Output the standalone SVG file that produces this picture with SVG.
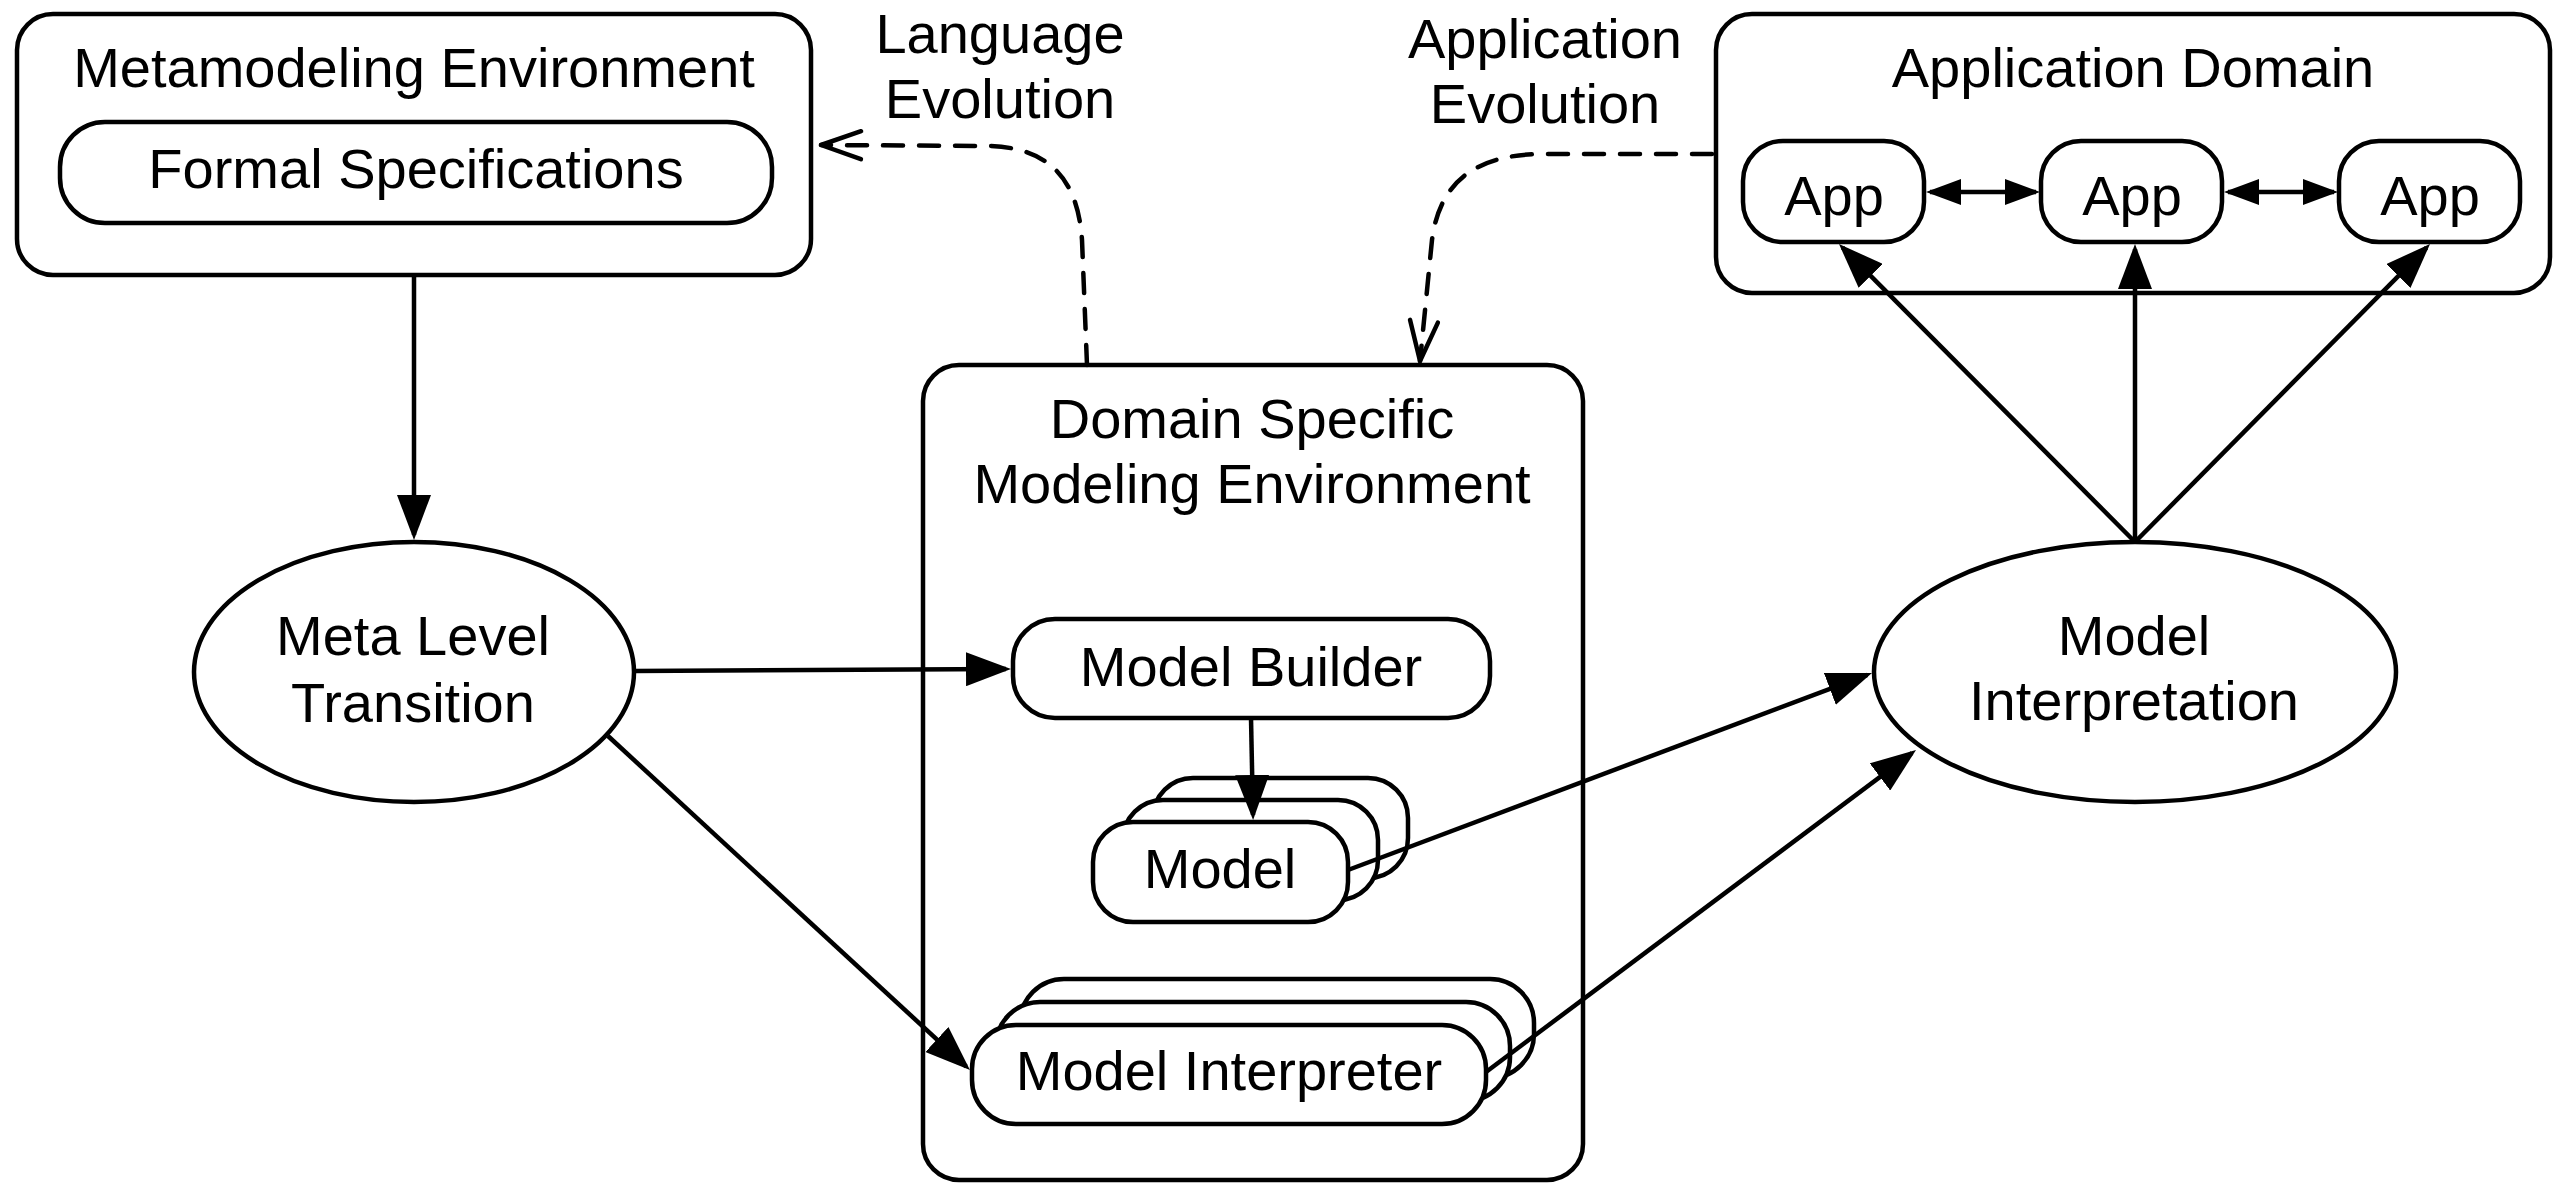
<svg xmlns="http://www.w3.org/2000/svg" width="2564" height="1184" viewBox="0 0 2564 1184">
  <style>
    .box { fill: #fff; stroke: #000; stroke-width: 4.5; }
    .lbl { font-family: "Liberation Sans", Arial, Helvetica, sans-serif; font-size: 56px; fill: #000; text-anchor: middle; }
    .edge { fill: none; stroke: #000; stroke-width: 4.5; }
    .dash { fill: none; stroke: #000; stroke-width: 4.5; stroke-dasharray: 20 16; stroke-linecap: round; }
  </style>
  <defs>
    <marker id="arr" markerUnits="userSpaceOnUse" viewBox="0 0 45 34" refX="40" refY="17" markerWidth="45" markerHeight="34" orient="auto">
      <path d="M0,0 L45,17 L0,34 z" fill="#000"/>
    </marker>
    <marker id="arrSm" markerUnits="userSpaceOnUse" viewBox="0 0 35 26" refX="31" refY="13" markerWidth="35" markerHeight="26" orient="auto-start-reverse">
      <path d="M0,0 L35,13 L0,26 z" fill="#000"/>
    </marker>
    <marker id="open" markerUnits="userSpaceOnUse" viewBox="-4 -4 48 36" refX="40" refY="14" markerWidth="48" markerHeight="36" orient="auto" overflow="visible">
      <path d="M0,0 L40,14 L0,28" fill="none" stroke="#000" stroke-width="4.5" stroke-dasharray="none" stroke-linecap="round" stroke-linejoin="round"/>
    </marker>
  </defs>

  <rect width="2564" height="1184" fill="#fff"/>

  <!-- Metamodeling environment -->
  <g id="metamodeling-environment">
    <rect class="box" x="17" y="14" width="794" height="261" rx="36"/>
    <text class="lbl" x="414" y="87">Metamodeling Environment</text>
  </g>
  <g id="formal-specifications">
    <rect class="box" x="60" y="122" width="712" height="101" rx="45"/>
    <text class="lbl" x="416" y="188">Formal Specifications</text>
  </g>

  <!-- Application domain -->
  <g id="application-domain">
    <rect class="box" x="1716" y="14" width="834" height="279" rx="36"/>
    <text class="lbl" x="2133" y="87">Application Domain</text>
  </g>
  <g id="app-1">
    <rect class="box" x="1743" y="141" width="181" height="101" rx="40"/>
    <text class="lbl" x="1834" y="215">App</text>
  </g>
  <g id="app-2">
    <rect class="box" x="2041" y="141" width="181" height="101" rx="40"/>
    <text class="lbl" x="2132" y="215">App</text>
  </g>
  <g id="app-3">
    <rect class="box" x="2339" y="141" width="181" height="101" rx="40"/>
    <text class="lbl" x="2430" y="215">App</text>
  </g>

  <!-- Evolution labels -->
  <g id="language-evolution">
    <text class="lbl" x="1000" y="53">Language</text>
    <text class="lbl" x="1000" y="118">Evolution</text>
  </g>
  <g id="application-evolution">
    <text class="lbl" x="1545" y="58">Application</text>
    <text class="lbl" x="1545" y="123">Evolution</text>
  </g>

  <!-- Meta level transition -->
  <g id="meta-level-transition">
    <ellipse class="box" cx="414" cy="672" rx="220" ry="130"/>
    <text class="lbl" x="413" y="655">Meta Level</text>
    <text class="lbl" x="413" y="722">Transition</text>
  </g>

  <!-- Domain specific modeling environment -->
  <g id="dsme">
    <rect class="box" x="923" y="365" width="660" height="815" rx="36"/>
    <text class="lbl" x="1252" y="438">Domain Specific</text>
    <text class="lbl" x="1252" y="503">Modeling Environment</text>
  </g>
  <g id="model-builder">
    <rect class="box" x="1013" y="619" width="477" height="99" rx="42"/>
    <text class="lbl" x="1251" y="686">Model Builder</text>
  </g>
  <g id="model">
    <rect class="box" x="1153" y="778" width="255" height="100" rx="40"/>
    <rect class="box" x="1123" y="800" width="255" height="100" rx="40"/>
    <rect class="box" x="1093" y="822" width="255" height="100" rx="40"/>
    <text class="lbl" x="1220" y="888">Model</text>
  </g>
  <g id="model-interpreter">
    <rect class="box" x="1020" y="979" width="514" height="99" rx="44"/>
    <rect class="box" x="996" y="1002" width="514" height="99" rx="44"/>
    <rect class="box" x="972" y="1025" width="514" height="99" rx="44"/>
    <text class="lbl" x="1229" y="1090">Model Interpreter</text>
  </g>

  <!-- Model interpretation -->
  <g id="model-interpretation">
    <ellipse class="box" cx="2135" cy="672" rx="261" ry="130"/>
    <text class="lbl" x="2134" y="655">Model</text>
    <text class="lbl" x="2134" y="720">Interpretation</text>
  </g>

  <!-- Connectors -->
  <g id="connectors">
    <line class="edge" x1="414" y1="275" x2="414" y2="535" marker-end="url(#arr)"/>
    <line class="edge" x1="634" y1="671" x2="1006" y2="669" marker-end="url(#arr)"/>
    <line class="edge" x1="608" y1="736" x2="966.3" y2="1066.6" marker-end="url(#arr)"/>
    <line class="edge" x1="1251" y1="718" x2="1253" y2="815" marker-end="url(#arr)"/>
    <line class="edge" x1="1348" y1="870" x2="1867.3" y2="674.8" marker-end="url(#arr)"/>
    <line class="edge" x1="1486" y1="1072" x2="1912" y2="753" marker-end="url(#arr)"/>
    <line class="edge" x1="2135" y1="542" x2="1842.5" y2="247.5" marker-end="url(#arr)"/>
    <line class="edge" x1="2135" y1="542" x2="2135" y2="249" marker-end="url(#arr)"/>
    <line class="edge" x1="2135" y1="542" x2="2426.5" y2="247.6" marker-end="url(#arr)"/>
    <line class="edge" x1="1930" y1="192" x2="2036" y2="192" marker-start="url(#arrSm)" marker-end="url(#arrSm)"/>
    <line class="edge" x1="2228" y1="192" x2="2334" y2="192" marker-start="url(#arrSm)" marker-end="url(#arrSm)"/>
    <path class="dash" d="M1087,365 L1082,240 C1078,180 1050,148 990,146 L821,145" marker-end="url(#open)"/>
    <path class="dash" d="M1712,154 L1540,154 C1480,155 1440,178 1432,240 L1420,361" marker-end="url(#open)"/>
  </g>
</svg>
